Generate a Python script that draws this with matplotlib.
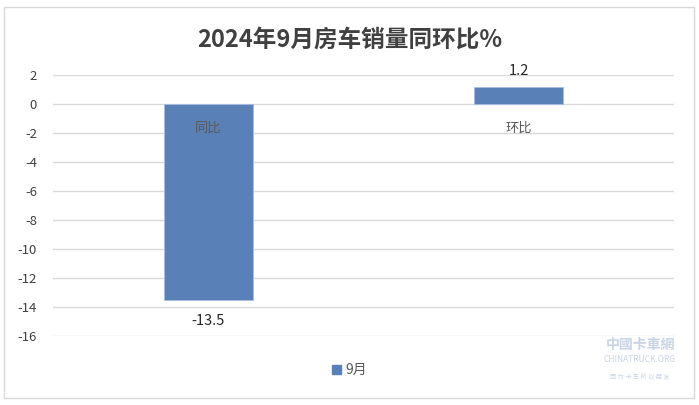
import matplotlib
matplotlib.use("Agg")
import matplotlib.pyplot as plt
from matplotlib.patches import Rectangle, Patch

plt.rcParams['font.family'] = ['Noto Sans CJK SC', 'DejaVu Sans']

title = "2024年9月房车销量同环比%"
categories = ["同比", "环比"]
values = [-13.5, 1.2]
series_name = "9月"
yticks = [2, 0, -2, -4, -6, -8, -10, -12, -14, -16]

bar_color = "#5a80b8"

fig = plt.figure(figsize=(6.99, 4.05), dpi=100)
# outer frame
fig.patches.append(Rectangle((4/699, 7/405), 690/699, 391/405, transform=fig.transFigure,
                             fill=False, edgecolor="#d9d9d9", linewidth=1.0))

ax = fig.add_axes([53/699, 1 - 336/405, 621/699, (336 - 75)/405])
x = list(range(len(categories)))
ax.bar(x, values, width=0.287, color=bar_color, edgecolor="#a9bfe0", linewidth=0.6, zorder=3)
ax.set_xlim(-0.5, 1.5)
ax.set_ylim(-16, 2)
ax.set_yticks(yticks)
ax.set_yticklabels([str(t) for t in yticks], fontsize=9.5, color="#404040")
ax.tick_params(axis='y', length=0, pad=11.5)
ax.tick_params(axis='x', length=0, labelbottom=False)
ax.grid(axis='y', color="#d9d9d9", linewidth=1.0, zorder=0)
for s in ax.spines.values():
    s.set_visible(False)

for xi, v, c in zip(x, values, categories):
    if v < 0:
        ax.annotate(f"{v}", (xi, v), xytext=(0, -10), textcoords='offset points',
                    ha='center', va='top', fontsize=10.5, color="#262626")
    else:
        ax.annotate(f"{v}", (xi, v), xytext=(0, 6), textcoords='offset points',
                    ha='center', va='bottom', fontsize=10.5, color="#262626")
    ax.annotate(c, (xi, 0), xytext=(0, -13), textcoords='offset points',
                ha='center', va='top', fontsize=9.5, color="#595959", zorder=4)

fig.text(0.5, 1 - 40/405, title, ha='center', va='center', fontsize=17,
         fontweight='bold', color="#404040")

handles = [Patch(facecolor=bar_color, edgecolor=bar_color)]
fig.legend(handles, [series_name], loc='center', bbox_to_anchor=(0.5, 1 - 370/405),
           frameon=False, fontsize=10, handlelength=0.6, handleheight=0.6,
           handletextpad=0.3, labelcolor="#595959")

# watermark
fig.text(640/699, 1 - 345/405, "中國卡車網", ha='center', va='center', fontsize=10,
         color="#c8d4e4", fontweight='bold')
fig.text(640/699, 1 - 360/405, "CHINATRUCK.ORG", ha='center', va='center', fontsize=6,
         color="#c8d4e4")
fig.text(640/699, 1 - 377/405, "因 为 卡 车 所 以 朋 友", ha='center', va='center', fontsize=4.5,
         color="#c8d4e4")

fig.savefig("out.png", dpi=100)
